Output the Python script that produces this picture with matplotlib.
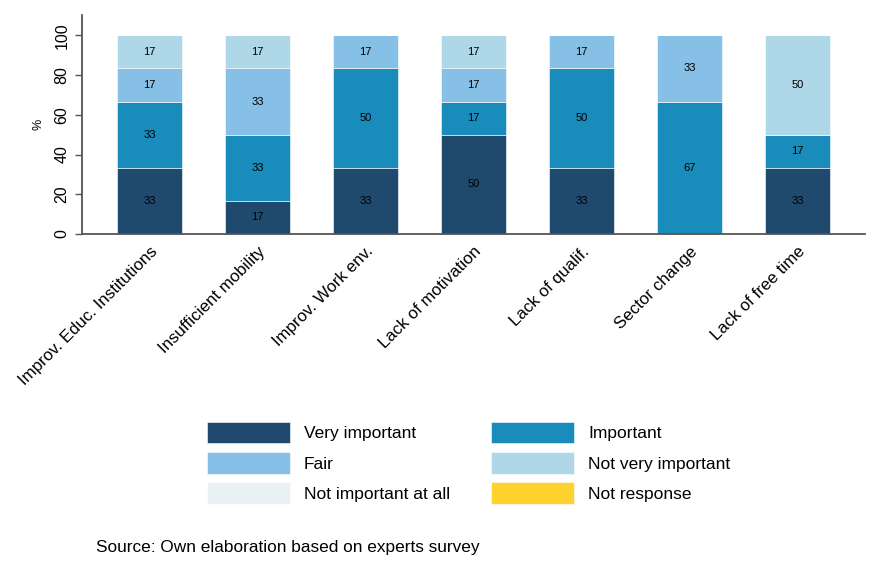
import matplotlib
matplotlib.use("Agg")
import matplotlib.pyplot as plt
import numpy as np

plt.rcParams['font.family'] = ['Liberation Sans', 'DejaVu Sans']

categories = ["Improv. Educ. Institutions", "Insufficient mobility", "Improv. Work env.",
              "Lack of motivation", "Lack of qualif.", "Sector change", "Lack of free time"]
very_important = [33.33, 16.67, 33.33, 50.0, 33.33, 0.0, 33.33]
important = [33.33, 33.33, 50.0, 16.67, 50.0, 66.67, 16.67]
fair = [16.67, 33.33, 16.67, 16.67, 16.67, 33.33, 0.0]
not_very_important = [16.67, 16.67, 0.0, 16.67, 0.0, 0.0, 50.0]
not_important_at_all = [0, 0, 0, 0, 0, 0, 0]
not_response = [0, 0, 0, 0, 0, 0, 0]
yticks = [0, 20, 40, 60, 80, 100]

series = [
    ("Very important", very_important, "#1f4a6e"),
    ("Important", important, "#198cbb"),
    ("Fair", fair, "#86c0e6"),
    ("Not very important", not_very_important, "#aed8e7"),
    ("Not important at all", not_important_at_all, "#eaf1f4"),
    ("Not response", not_response, "#ffd22f"),
]

fig = plt.figure(figsize=(8.73, 5.83), dpi=100)
ax = fig.add_axes([0.094, 0.5986, 0.897, 0.375])
x = np.arange(len(categories))
bottom = np.zeros(len(categories))
handles = {}
for name, vals, col in series:
    vals = np.array(vals, dtype=float)
    bars = ax.bar(x, vals, 0.6, bottom=bottom, color=col, edgecolor="white",
                  linewidth=0.4, label=name)
    handles[name] = bars
    for xi, v, b in zip(x, vals, bottom):
        if v > 0:
            ax.text(xi, b + v / 2, f"{v:.0f}", ha="center", va="center", fontsize=8, color="black")
    bottom += vals

ax.set_xlim(-0.625, 6.625)
ax.set_ylim(0, 110)
ax.set_yticks(yticks)
ax.set_yticklabels([str(t) for t in yticks], rotation=90, va="center", fontsize=11.5)
ax.set_xticks(x)
ax.set_xticklabels(categories, rotation=45, ha="right", rotation_mode="anchor", fontsize=12.2)
ax.tick_params(axis="x", length=0, pad=7)
ax.tick_params(axis="y", length=5, width=1, color="#555555", pad=4)
ax.set_ylabel("%", fontsize=9, labelpad=7)
for s in ["top", "right"]:
    ax.spines[s].set_visible(False)
for s in ["left", "bottom"]:
    ax.spines[s].set_color("#555555")
    ax.spines[s].set_linewidth(1.3)

order = ["Very important", "Fair", "Not important at all", "Important", "Not very important", "Not response"]
fig.legend([handles[n] for n in order], order, ncol=2, loc="upper left",
           bbox_to_anchor=(0.2371, 0.2767), frameon=False, fontsize=12.5,
           handlelength=4.78, handleheight=1.55, labelspacing=0.49,
           handletextpad=0.8, columnspacing=2.37, borderpad=0, borderaxespad=0)

fig.text(0.11, 0.0535, "Source: Own elaboration based on experts survey", fontsize=12.4)
fig.savefig("out.png", dpi=100)
